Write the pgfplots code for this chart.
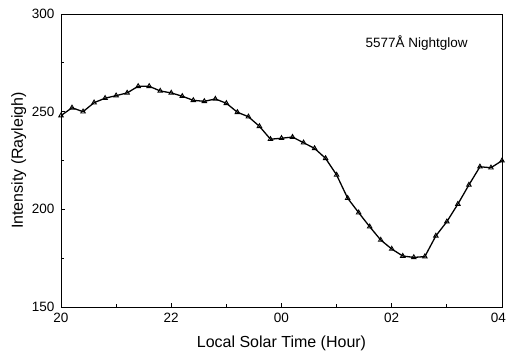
\documentclass[border=0pt]{standalone}
\usepackage{fontspec}
\setmainfont{Liberation Sans}
\usepackage{pgfplots}
\pgfplotsset{compat=1.18}
\begin{document}
\begin{tikzpicture}
\path[use as bounding box] (-61pt,-44pt) rectangle (446pt,307pt);
\begin{axis}[
  scale only axis,
  width=441pt, height=293pt,
  xmin=20, xmax=28, ymin=150, ymax=300,
  xtick={20,22,24,26,28},
  xticklabels={20,22,00,02,\makebox[0pt][r]{04\kern-4pt}},
  minor xtick={21,23,25,27},
  ytick={150,200,250,300},
  minor ytick={175,225,275},
  tick align=inside,
  xtick pos=bottom, ytick pos=left,
  major tick length=4pt, minor tick length=3pt,
  /pgf/number format/assume math mode=true,
  ticklabel style={font=\fontsize{13.5}{14}\selectfont},
  xticklabel style={yshift=-3pt},
  yticklabel style={xshift=-3pt},
  label style={font=\fontsize{16}{18}\selectfont},
  xlabel={Local Solar Time (Hour)},
  ylabel={Intensity (Rayleigh)},
  axis line style={line width=0.9pt},
  tick style={line width=0.8pt, black},
  xlabel style={yshift=-6pt},
  ylabel style={yshift=-1pt},
  clip=false,
]
\addplot[black, line width=1.3pt, mark=triangle, mark size=2.6pt, mark options={line width=0.9pt, fill=white}] coordinates {
(20.0,248.0) (20.2,252.0) (20.4,250.0) (20.6,254.6) (20.8,256.9)
(21.0,258.2) (21.2,259.6) (21.4,263.0) (21.6,263.0) (21.8,260.6)
(22.0,259.6) (22.2,257.9) (22.4,255.8) (22.6,255.3) (22.8,256.5)
(23.0,254.3) (23.2,249.7) (23.4,247.4) (23.6,242.5) (23.8,235.9)
(24.0,236.4) (24.2,237.0) (24.4,234.1) (24.6,231.2) (24.8,226.1)
(25.0,217.6) (25.2,205.7) (25.4,198.3) (25.6,191.1) (25.8,184.3)
(26.0,179.7) (26.2,176.1) (26.4,175.4) (26.6,175.8) (26.8,186.4)
(27.0,193.7) (27.2,202.7) (27.4,212.5) (27.6,221.8) (27.8,221.3)
(28.0,224.9)
};
\node[anchor=west, font=\fontsize{13.5}{15}\selectfont] at (axis cs:25.46,285.2) {5577Å Nightglow};
\end{axis}
\end{tikzpicture}
\end{document}
